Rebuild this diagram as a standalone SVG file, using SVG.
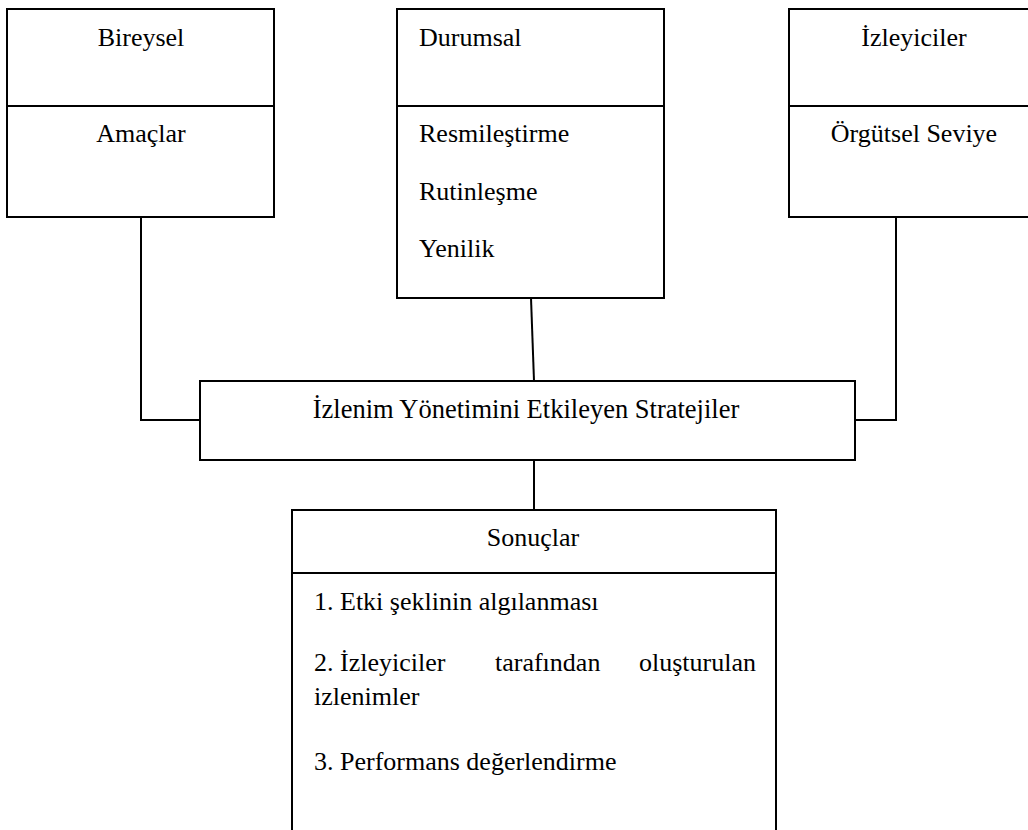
<svg xmlns="http://www.w3.org/2000/svg" width="1028" height="830" viewBox="0 0 1028 830">
<style>
  .box { fill: #ffffff; stroke: #000000; stroke-width: 2; }
  .div { stroke: #000000; stroke-width: 2; fill: none; }
  .conn { stroke: #000000; stroke-width: 2; fill: none; }
  .t { font-family: "Liberation Serif", "Times New Roman", "DejaVu Serif", serif; font-size: 26px; fill: #000000; }
  .c { text-anchor: middle; }
</style>
<rect width="1028" height="830" fill="#ffffff"/>
<g id="connectors">
  <polyline class="conn" points="141,217 141,420 200,420"/>
  <polyline class="conn" points="896,217 896,420 855,420"/>
  <line class="conn" x1="531" y1="298" x2="534" y2="381"/>
  <line class="conn" x1="534" y1="460" x2="534" y2="510"/>
</g>
<g id="bireysel" class="t">
  <rect class="box" x="7" y="9" width="267" height="208"/>
  <line class="div" x1="7" y1="106" x2="274" y2="106"/>
  <text class="c" x="141" y="46">Bireysel</text>
  <text class="c" x="141" y="142">Amaçlar</text>
</g>
<g id="durumsal" class="t">
  <rect class="box" x="397" y="9" width="267" height="289"/>
  <line class="div" x1="397" y1="106" x2="664" y2="106"/>
  <text x="419" y="46">Durumsal</text>
  <text x="419" y="142">Resmileştirme</text>
  <text x="419" y="200">Rutinleşme</text>
  <text x="419" y="257">Yenilik</text>
</g>
<g id="izleyiciler" class="t">
  <rect class="box" x="789" y="9" width="260" height="208"/>
  <line class="div" x1="789" y1="106" x2="1049" y2="106"/>
  <text class="c" x="914" y="46">İzleyiciler</text>
  <text class="c" x="914" y="142">Örgütsel Seviye</text>
</g>
<g id="stratejiler" class="t">
  <rect class="box" x="200" y="381" width="655" height="79"/>
  <text class="c" x="526" y="418" font-size="26.5">İzlenim Yönetimini Etkileyen Stratejiler</text>
</g>
<g id="sonuclar" class="t">
  <path class="box" d="M292,840 L292,510 L776,510 L776,840"/>
  <line class="div" x1="292" y1="573" x2="776" y2="573"/>
  <text class="c" x="533" y="546">Sonuçlar</text>
  <text x="314" y="610">1. Etki şeklinin algılanması</text>
  <text x="314" y="671">2.</text>
  <text x="340" y="671">İzleyiciler</text>
  <text x="495" y="671">tarafından</text>
  <text x="756" y="671" text-anchor="end">oluşturulan</text>
  <text x="314" y="705">izlenimler</text>
  <text x="314" y="770">3. Performans değerlendirme</text>
</g>
</svg>
